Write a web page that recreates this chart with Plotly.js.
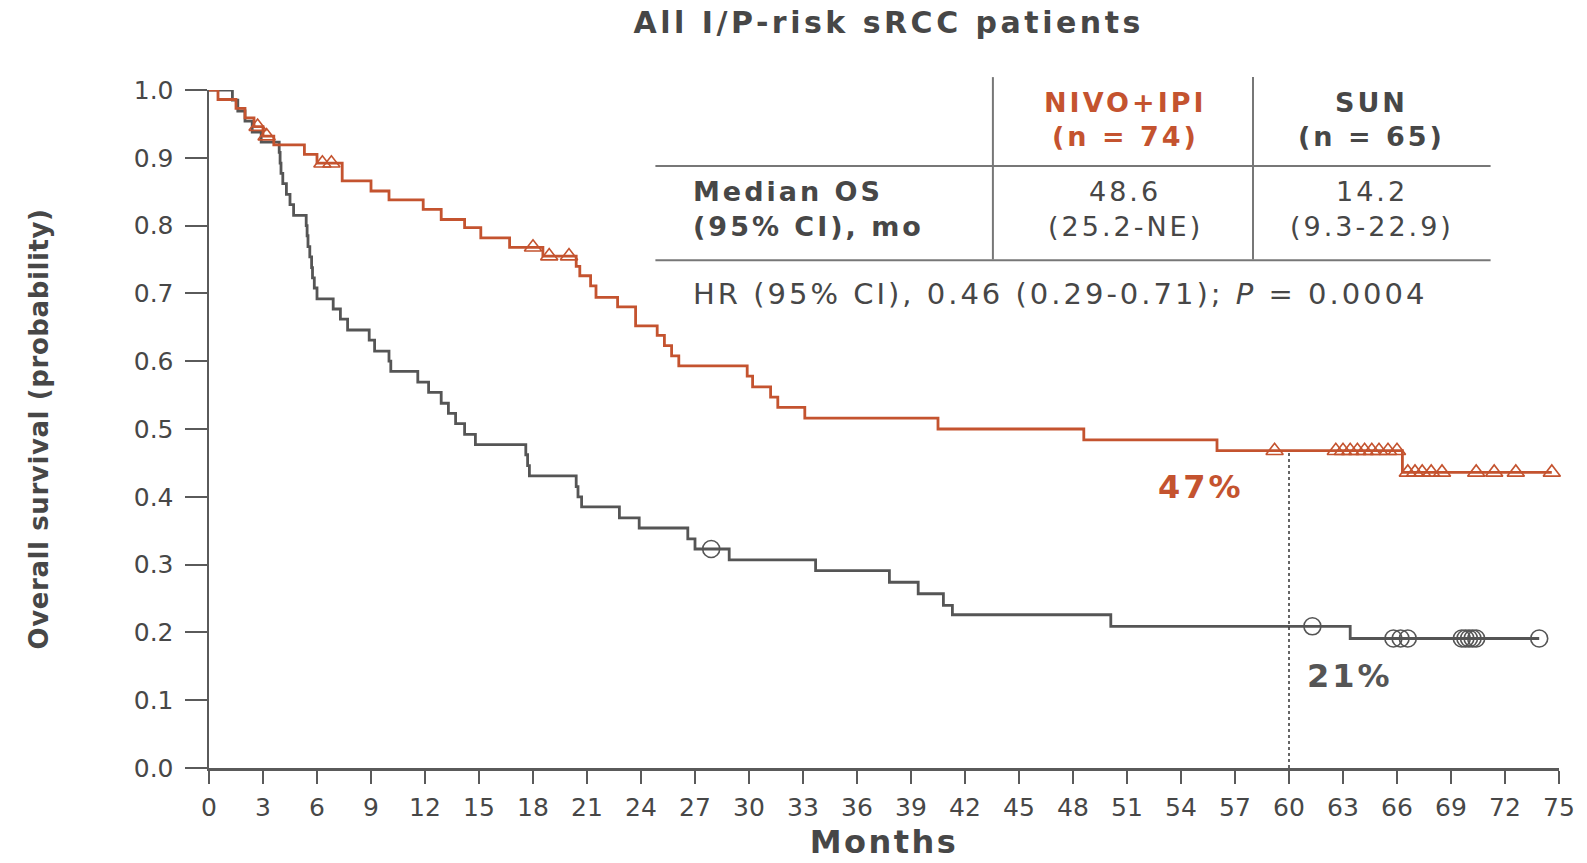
<!DOCTYPE html>
<html>
<head>
<meta charset="utf-8">
<script src="https://cdn.plot.ly/plotly-3.0.1.min.js"></script>
<style>
  html, body { margin: 0; padding: 0; background: #ffffff; }
  #chart { width: 1587px; height: 863px; }
  .gtitle { letter-spacing: 3.5px; }
  .annotation-text { letter-spacing: 3px; }
  .xtitle { letter-spacing: 2.5px; }
  .ytitle { letter-spacing: 0.6px; }
</style>
</head>
<body>
<div id="chart"></div>
<script>
// ---- Data (Kaplan–Meier OS, months) ----
const nivoTimes = [0, 0.5, 1.5, 2.0, 2.5, 3.0, 3.6, 5.3, 6.0, 7.4, 9.0, 10.0, 11.9, 12.9, 14.2, 15.1, 16.7, 18.55, 20.4, 20.6, 21.2, 21.5, 22.7, 23.7, 24.9, 25.3, 25.7, 26.1, 29.9, 30.2, 31.2, 31.6, 33.1, 40.5, 48.6, 56.0, 66.3];
const nivoSurv  = [1.0, 0.986, 0.973, 0.959, 0.946, 0.932, 0.919, 0.905, 0.892, 0.866, 0.851, 0.838, 0.824, 0.809, 0.797, 0.782, 0.768, 0.755, 0.740, 0.726, 0.711, 0.694, 0.680, 0.652, 0.638, 0.623, 0.608, 0.593, 0.578, 0.562, 0.547, 0.532, 0.516, 0.500, 0.484, 0.468, 0.436];
const nivoCensored = [2.7, 3.2, 6.3, 6.8, 18.0, 18.9, 20.0, 59.2, 62.6, 63.0, 63.4, 63.8, 64.2, 64.6, 65.0, 65.5, 66.0, 66.6, 67.0, 67.4, 67.9, 68.5, 70.4, 71.4, 72.6, 74.6];

const sunTimes = [0, 1.3, 1.6, 2.0, 2.4, 2.9, 3.9, 3.95, 4.0, 4.1, 4.3, 4.5, 4.7, 5.4, 5.45, 5.5, 5.6, 5.7, 5.75, 5.85, 6.0, 6.9, 7.3, 7.7, 8.9, 9.2, 10.0, 10.1, 11.6, 12.2, 12.9, 13.3, 13.7, 14.2, 14.8, 17.6, 17.7, 17.8, 20.4, 20.5, 20.7, 22.8, 23.9, 26.6, 27.0, 28.9, 33.7, 37.8, 39.4, 40.8, 41.3, 50.1, 63.4];
const sunSurv  = [1.0, 0.985, 0.969, 0.954, 0.938, 0.923, 0.908, 0.892, 0.877, 0.862, 0.846, 0.831, 0.815, 0.800, 0.785, 0.769, 0.754, 0.738, 0.723, 0.708, 0.692, 0.677, 0.662, 0.646, 0.631, 0.615, 0.600, 0.585, 0.569, 0.554, 0.538, 0.523, 0.508, 0.492, 0.477, 0.462, 0.446, 0.431, 0.415, 0.400, 0.385, 0.369, 0.354, 0.338, 0.323, 0.307, 0.291, 0.274, 0.257, 0.240, 0.226, 0.209, 0.191];
const sunCensored = [27.9, 61.3, 65.8, 66.2, 66.6, 69.6, 69.8, 70.0, 70.2, 70.4, 73.9];

const xTicks = [0, 3, 6, 9, 12, 15, 18, 21, 24, 27, 30, 33, 36, 39, 42, 45, 48, 51, 54, 57, 60, 63, 66, 69, 72, 75];
const yTicks = [0, 0.1, 0.2, 0.3, 0.4, 0.5, 0.6, 0.7, 0.8, 0.9, 1.0];
const yTickText = yTicks.map(v => v.toFixed(1));

const landmarkMonth = 60;
const landmarkNivo = "47%";
const landmarkSun = "21%";

const tableHeader = ["NIVO+IPI", "(n = 74)", "SUN", "(n = 65)"];
const tableRowLabel = ["Median OS", "(95% CI), mo"];
const nivoMedian = ["48.6", "(25.2-NE)"];
const sunMedian = ["14.2", "(9.3-22.9)"];
const hrText = "HR (95% CI), 0.46 (0.29-0.71); <i>P</i> = 0.0004";

// ---- Styling ----
const RED = "#c4532f";
const GRAY = "#555555";
const TXT = "#474747";
const FONT = "DejaVu Sans, Verdana, sans-serif";

function survAt(times, surv, t) {
  let s = surv[0];
  for (let i = 0; i < times.length; i++) { if (times[i] <= t) s = surv[i]; }
  return s;
}
function stepLine(times, surv, tEnd) {
  return { x: times.concat([tEnd]), y: surv.concat([surv[surv.length - 1]]) };
}

const nivoEnd = Math.max(...nivoCensored);
const sunEnd = Math.max(...sunCensored);
const nivoLine = stepLine(nivoTimes, nivoSurv, nivoEnd);
const sunLine = stepLine(sunTimes, sunSurv, sunEnd);

const traces = [
  { x: sunLine.x, y: sunLine.y, mode: "lines", line: { shape: "hv", color: GRAY, width: 2.8 }, cliponaxis: false, hoverinfo: "skip", name: "SUN" },
  { x: nivoLine.x, y: nivoLine.y, mode: "lines", line: { shape: "hv", color: RED, width: 2.8 }, cliponaxis: false, hoverinfo: "skip", name: "NIVO+IPI" },
  { x: sunCensored, y: sunCensored.map(t => survAt(sunTimes, sunSurv, t)), mode: "markers",
    marker: { symbol: "circle-open", size: 17, color: GRAY, line: { width: 1.6, color: GRAY } }, cliponaxis: false, hoverinfo: "skip" },
  { x: nivoCensored, y: nivoCensored.map(t => survAt(nivoTimes, nivoSurv, t)), mode: "markers",
    marker: { symbol: "triangle-up-open", size: 15, color: RED, line: { width: 1.6, color: RED } }, cliponaxis: false, hoverinfo: "skip" },
  { x: [landmarkMonth, landmarkMonth], y: [0, survAt(nivoTimes, nivoSurv, landmarkMonth)], mode: "lines",
    line: { color: "#333333", width: 1.5, dash: "dot" }, hoverinfo: "skip" }
];

// table geometry (months on x, probability on y)
const colL = 24.8, colR = 71.2, div1 = 43.55, div2 = 58.0;
const c1 = 50.9, c2 = 64.6, rowLabelX = 26.8;

const shapes = [
  { type: "line", xref: "x", yref: "paper", x0: div1, x1: div1, y0: 0.750, y1: 1.019, line: { color: "#777", width: 2 } },
  { type: "line", xref: "x", yref: "paper", x0: div2, x1: div2, y0: 0.750, y1: 1.019, line: { color: "#777", width: 2 } },
  { type: "line", xref: "x", yref: "paper", x0: colL, x1: colR, y0: 0.888, y1: 0.888, line: { color: "#777", width: 2 } },
  { type: "line", xref: "x", yref: "paper", x0: colL, x1: colR, y0: 0.749, y1: 0.749, line: { color: "#777", width: 2 } }
];

function ann(text, x, y, opts) {
  return Object.assign({ text: text, x: x, y: y, xref: "x", yref: "y", showarrow: false,
    xanchor: "center", yanchor: "middle", font: { family: FONT, size: 27, color: TXT } }, opts || {});
}

const annotations = [
  ann(tableHeader[0], c1, 0.982, { font: { family: FONT, size: 27, color: RED, weight: "bold" } }),
  ann(tableHeader[1], c1, 0.932, { font: { family: FONT, size: 27, color: RED, weight: "bold" } }),
  ann(tableHeader[2], c2, 0.982, { font: { family: FONT, size: 27, color: TXT, weight: "bold" } }),
  ann(tableHeader[3], c2, 0.932, { font: { family: FONT, size: 27, color: TXT, weight: "bold" } }),
  ann(tableRowLabel[0], rowLabelX, 0.851, { xanchor: "left", font: { family: FONT, size: 27, color: TXT, weight: "bold" } }),
  ann(tableRowLabel[1], rowLabelX, 0.798, { xanchor: "left", font: { family: FONT, size: 27, color: TXT, weight: "bold" } }),
  ann(nivoMedian[0], c1, 0.851),
  ann(nivoMedian[1], c1, 0.798),
  ann(sunMedian[0], c2, 0.851),
  ann(sunMedian[1], c2, 0.798),
  ann(hrText, rowLabelX, 0.699, { xanchor: "left", font: { family: FONT, size: 29, color: TXT } }),
  ann(landmarkNivo, 55.1, 0.415, { font: { family: FONT, size: 32, color: RED, weight: "bold" } }),
  ann(landmarkSun, 63.4, 0.136, { font: { family: FONT, size: 32, color: "#555555", weight: "bold" } })
];

const layout = {
  width: 1587, height: 863,
  margin: { l: 209, r: 28, t: 90, b: 95, pad: 0 },
  paper_bgcolor: "#ffffff", plot_bgcolor: "#ffffff",
  showlegend: false,
  title: { text: "All I/P-risk sRCC patients", x: 0.56, xanchor: "center", y: 0.974, yanchor: "middle",
    font: { family: FONT, size: 30, color: TXT, weight: "bold" } },
  xaxis: {
    range: [0, 75], tickmode: "array", tickvals: xTicks, ticktext: xTicks.map(String),
    showline: true, linecolor: "#5a5a5a", linewidth: 2.5, showgrid: false, zeroline: false,
    ticks: "outside", ticklen: 13, tickwidth: 2, tickcolor: "#5a5a5a",
    tickfont: { family: FONT, size: 25, color: TXT }, ticklabelstandoff: 2,
    title: { text: "Months", standoff: 10, font: { family: FONT, size: 32, color: TXT, weight: "bold" } },
    fixedrange: true
  },
  yaxis: {
    range: [0, 1], tickmode: "array", tickvals: yTicks, ticktext: yTickText,
    showline: true, linecolor: "#5a5a5a", linewidth: 2.5, showgrid: false, zeroline: false,
    ticks: "outside", ticklen: 22, tickwidth: 2, tickcolor: "#5a5a5a",
    tickfont: { family: FONT, size: 25, color: TXT }, ticklabelstandoff: 6,
    title: { text: "Overall survival (probability)", standoff: 78, font: { family: FONT, size: 26, color: TXT, weight: "bold" } },
    fixedrange: true
  },
  shapes: shapes,
  annotations: annotations
};

Plotly.newPlot("chart", traces, layout, { displayModeBar: false, staticPlot: true });
</script>
</body>
</html>
